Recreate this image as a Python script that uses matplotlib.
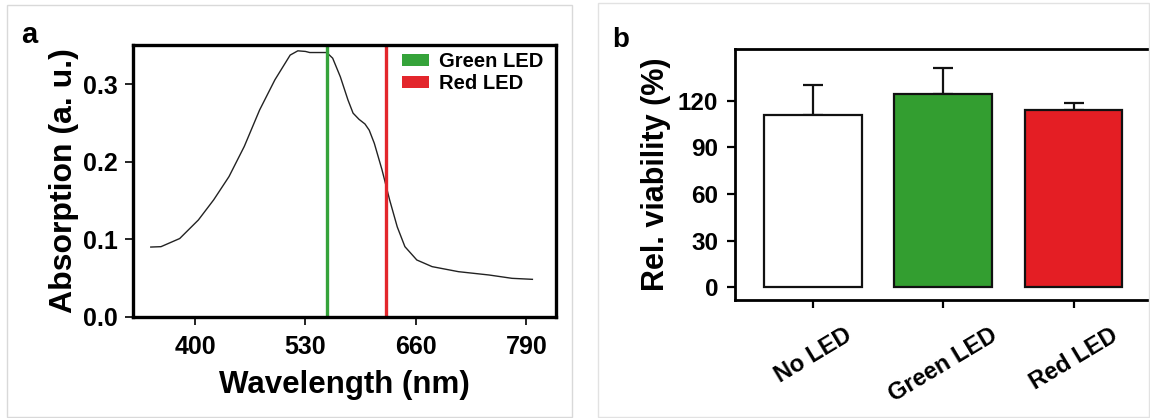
import numpy as np
import matplotlib
from matplotlib import pyplot as plt
from matplotlib.patches import Patch, Rectangle

matplotlib.rcParams['font.family'] = ['Liberation Sans', 'DejaVu Sans']
matplotlib.rcParams['font.weight'] = 'bold'

# panel a: absorption spectrum
wavelength = [348, 360, 382, 404, 422, 440, 458, 476, 494, 512, 521, 530, 535,
              555, 562, 571, 580, 586, 593, 600, 605, 611, 620, 629, 638, 647,
              661, 679, 710, 746, 773, 797]
absorption = [0.090, 0.0905, 0.101, 0.125, 0.151, 0.181, 0.220, 0.267, 0.306,
              0.338, 0.3435, 0.3427, 0.3413, 0.3413, 0.334, 0.310, 0.280, 0.263,
              0.255, 0.249, 0.241, 0.224, 0.190, 0.151, 0.116, 0.0905, 0.0733,
              0.0647, 0.0582, 0.0539, 0.0496, 0.0483]
green_led = 555
red_led = 625
wl_ticks = [400, 530, 660, 790]
abs_ticks = [0.0, 0.1, 0.2, 0.3]

# panel b: viability
groups = ['No LED', 'Green LED', 'Red LED']
viability = [111, 124, 114]
viability_err = [19, 17, 4.7]
vi_ticks = [0, 30, 60, 90, 120]

green = '#339e30'
red = '#e41e24'

fig = plt.figure(figsize=(11.5, 4.18), dpi=100)

# light gray panel frames
fig.patches.append(Rectangle((0.006, 0.003), 0.491, 0.985, transform=fig.transFigure,
                             fill=False, edgecolor='#d9d9d9', lw=1))
fig.patches.append(Rectangle((0.5203, 0.003), 0.4787, 0.99, transform=fig.transFigure,
                             fill=False, edgecolor='#e2e2e2', lw=1))

# ---- panel a
ax = fig.add_axes([0.1159, 0.2423, 0.3673, 0.6500])
ax.plot(wavelength, absorption, color='#222222', lw=1)
ax.axvline(green_led, color='#35a33a', lw=2.4)
ax.axvline(red_led, color='#e3262c', lw=2.4)
ax.set_xlim(327.4, 824.4)
ax.set_ylim(0, 0.351)
ax.set_xticks(wl_ticks)
ax.set_yticks(abs_ticks)
ax.set_yticklabels(['%.1f' % t for t in abs_ticks])
for s in ax.spines.values():
    s.set_linewidth(2.4)
ax.tick_params(axis='both', direction='out', length=6, width=1.2, labelsize=18)
ax.tick_params(axis='x', pad=7)
ax.tick_params(axis='y', pad=5)
ax.set_xlabel('Wavelength (nm)', fontsize=22.5, fontweight='bold', labelpad=8)
ax.set_ylabel('Absorption (a. u.)', fontsize=23, fontweight='bold', labelpad=3)
handles = [Patch(facecolor='#35a33a', edgecolor='none'),
           Patch(facecolor='#e3262c', edgecolor='none')]
ax.legend(handles, ['Green LED', 'Red LED'], loc='upper left',
          bbox_to_anchor=(0.635, 0.975), frameon=False,
          handlelength=1.35, handleheight=0.55, handletextpad=0.5,
          labelspacing=0.15, borderpad=0, borderaxespad=0,
          prop={'weight': 'bold', 'size': 14.5})

fig.text(0.018, 0.897, 'a', fontsize=21, fontweight='bold', va='baseline')

# ---- panel b
bx = fig.add_axes([0.6391, 0.2823, 0.3609, 0.5997])
x = np.arange(len(groups))
bx.bar(x, viability, width=0.75, color=['white', green, red],
       edgecolor='#111111', linewidth=1.6, zorder=2)
bx.errorbar(x, viability, yerr=[np.zeros(len(viability)), viability_err],
            fmt='none', ecolor='#111111', elinewidth=1.6, capsize=7.2,
            capthick=1.6, zorder=1)
bx.set_xlim(-0.598, 2.587)
bx.set_ylim(-8.2, 153)
bx.set_xticks(x)
bx.set_xticklabels(groups, rotation=31, ha='center', fontsize=17, fontweight='bold')
bx.set_yticks(vi_ticks)
bx.set_yticklabels([str(t) for t in vi_ticks], fontsize=17.5, fontweight='bold')
bx.spines['right'].set_visible(False)
for s in ['left', 'top', 'bottom']:
    bx.spines[s].set_linewidth(2.0)
bx.tick_params(axis='both', direction='out', length=6, width=1.6)
bx.tick_params(axis='x', pad=11)
bx.tick_params(axis='y', pad=6)
bx.set_ylabel('Rel. viability (%)', fontsize=22, fontweight='bold', labelpad=5)

fig.text(0.5328, 0.888, 'b', fontsize=20, fontweight='bold', va='baseline')

plt.savefig('out.png', dpi=100)
